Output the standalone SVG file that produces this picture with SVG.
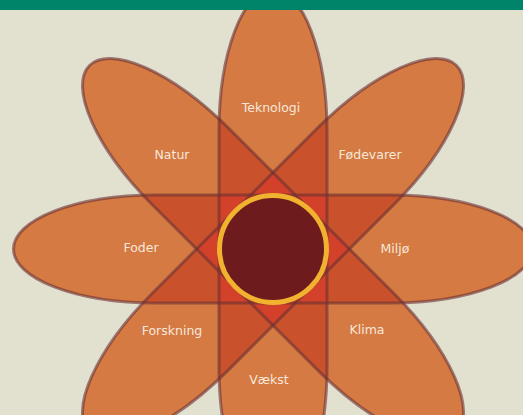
<svg xmlns="http://www.w3.org/2000/svg" xmlns:xlink="http://www.w3.org/1999/xlink" width="523" height="415" viewBox="0 0 523 415">
<style>
.p1{fill:#d47a42}
.o2{fill:#c9522c}
.o3{fill:#d3412a}
.ol{fill:none;stroke:#6a3034;stroke-opacity:0.6;stroke-width:3}
.lbl{font-family:"DejaVu Sans","Liberation Sans",sans-serif;font-size:12.5px;fill:#f7e8dc;text-anchor:middle}
</style>
<defs>
<path id="band" d="M-118,-54 L118,-54 A141.5,54 0 0 1 118,54 L-118,54 A141.5,54 0 0 1 -118,-54 Z"/>
<use id="bH" href="#band" transform="translate(273,249) rotate(0)"/>
<use id="bA" href="#band" transform="translate(273,249) rotate(45)"/>
<use id="bV" href="#band" transform="translate(273,249) rotate(90)"/>
<use id="bB" href="#band" transform="translate(273,249) rotate(135)"/>
<clipPath id="cH"><use href="#band" transform="translate(273,249) rotate(0)"/></clipPath>
<clipPath id="cA"><use href="#band" transform="translate(273,249) rotate(45)"/></clipPath>
<clipPath id="cV"><use href="#band" transform="translate(273,249) rotate(90)"/></clipPath>
<clipPath id="cB"><use href="#band" transform="translate(273,249) rotate(135)"/></clipPath>
</defs>
<rect width="523" height="415" fill="#e2e0cf"/>
<g id="petals" class="p1">
<use href="#bH"/>
<use href="#bA"/>
<use href="#bV"/>
<use href="#bB"/>
</g>
<g id="overlaps">
<g class="o2">
<g clip-path="url(#cA)"><use href="#bH"/></g>
<g clip-path="url(#cV)"><use href="#bH"/></g>
<g clip-path="url(#cB)"><use href="#bH"/></g>
<g clip-path="url(#cV)"><use href="#bA"/></g>
<g clip-path="url(#cB)"><use href="#bA"/></g>
<g clip-path="url(#cB)"><use href="#bV"/></g>
</g>
<g class="o3">
<g clip-path="url(#cA)"><g clip-path="url(#cV)"><use href="#bH"/></g></g>
<g clip-path="url(#cA)"><g clip-path="url(#cB)"><use href="#bH"/></g></g>
<g clip-path="url(#cV)"><g clip-path="url(#cB)"><use href="#bH"/></g></g>
<g clip-path="url(#cV)"><g clip-path="url(#cB)"><use href="#bA"/></g></g>
</g>
</g>
<g id="outlines" class="ol">
<use href="#bH"/>
<use href="#bA"/>
<use href="#bV"/>
<use href="#bB"/>
</g>
<g id="center"><circle cx="273" cy="249" r="53.5" fill="#6d1b1d" stroke="#f1b22f" stroke-width="5"/></g>
<g id="node-teknologi"><text class="lbl" x="271" y="112">Teknologi</text></g>
<g id="node-natur"><text class="lbl" x="172" y="159">Natur</text></g>
<g id="node-fodevarer"><text class="lbl" x="370" y="159">Fødevarer</text></g>
<g id="node-foder"><text class="lbl" x="141" y="252">Foder</text></g>
<g id="node-miljo"><text class="lbl" x="395" y="253">Miljø</text></g>
<g id="node-forskning"><text class="lbl" x="172" y="335">Forskning</text></g>
<g id="node-klima"><text class="lbl" x="367" y="334">Klima</text></g>
<g id="node-vaekst"><text class="lbl" x="269" y="384">Vækst</text></g>
<rect id="topbar" x="0" y="0" width="523" height="10" fill="#008469"/>
</svg>
